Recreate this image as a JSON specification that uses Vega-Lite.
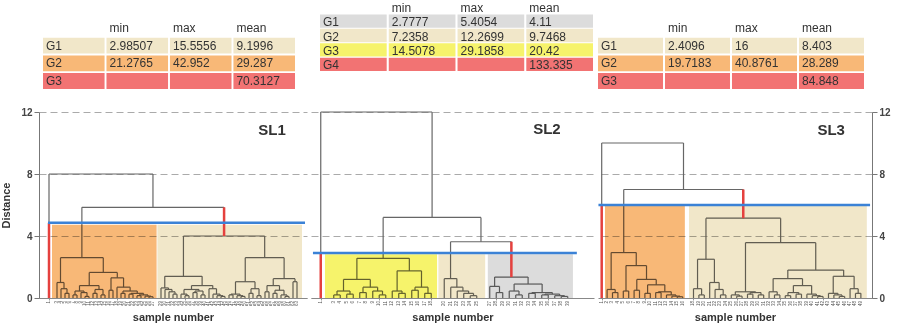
{
"$schema": "https://vega.github.io/schema/vega-lite/v6.json",
"padding": 0,
"bounds": "flush",
"align": "each",
"columns": 3,
"spacing": {"row": 12, "column": 4},
"config": {"view": {"stroke": null}, "font": "Liberation Sans", "text": {"font": "Liberation Sans"}},
"datasets": {
"tab1": [
{"row":"hdr","col":"min","txt":"min","cls":"none"},{"row":"hdr","col":"max","txt":"max","cls":"none"},{"row":"hdr","col":"mean","txt":"mean","cls":"none"},
{"row":"G1","col":"label","txt":"G1","cls":"beige"},{"row":"G1","col":"min","txt":"2.98507","cls":"beige"},{"row":"G1","col":"max","txt":"15.5556","cls":"beige"},{"row":"G1","col":"mean","txt":"9.1996","cls":"beige"},
{"row":"G2","col":"label","txt":"G2","cls":"orange"},{"row":"G2","col":"min","txt":"21.2765","cls":"orange"},{"row":"G2","col":"max","txt":"42.952","cls":"orange"},{"row":"G2","col":"mean","txt":"29.287","cls":"orange"},
{"row":"G3","col":"label","txt":"G3","cls":"red"},{"row":"G3","col":"min","txt":"","cls":"red"},{"row":"G3","col":"max","txt":"","cls":"red"},{"row":"G3","col":"mean","txt":"70.3127","cls":"red"}
],
"tab2": [
{"row":"hdr","col":"min","txt":"min","cls":"none"},{"row":"hdr","col":"max","txt":"max","cls":"none"},{"row":"hdr","col":"mean","txt":"mean","cls":"none"},
{"row":"G1","col":"label","txt":"G1","cls":"grey"},{"row":"G1","col":"min","txt":"2.7777","cls":"grey"},{"row":"G1","col":"max","txt":"5.4054","cls":"grey"},{"row":"G1","col":"mean","txt":"4.11","cls":"grey"},
{"row":"G2","col":"label","txt":"G2","cls":"beige"},{"row":"G2","col":"min","txt":"7.2358","cls":"beige"},{"row":"G2","col":"max","txt":"12.2699","cls":"beige"},{"row":"G2","col":"mean","txt":"9.7468","cls":"beige"},
{"row":"G3","col":"label","txt":"G3","cls":"yellow"},{"row":"G3","col":"min","txt":"14.5078","cls":"yellow"},{"row":"G3","col":"max","txt":"29.1858","cls":"yellow"},{"row":"G3","col":"mean","txt":"20.42","cls":"yellow"},
{"row":"G4","col":"label","txt":"G4","cls":"red"},{"row":"G4","col":"min","txt":"","cls":"red"},{"row":"G4","col":"max","txt":"","cls":"red"},{"row":"G4","col":"mean","txt":"133.335","cls":"red"}
],
"tab3": [
{"row":"hdr","col":"min","txt":"min","cls":"none"},{"row":"hdr","col":"max","txt":"max","cls":"none"},{"row":"hdr","col":"mean","txt":"mean","cls":"none"},
{"row":"G1","col":"label","txt":"G1","cls":"beige"},{"row":"G1","col":"min","txt":"2.4096","cls":"beige"},{"row":"G1","col":"max","txt":"16","cls":"beige"},{"row":"G1","col":"mean","txt":"8.403","cls":"beige"},
{"row":"G2","col":"label","txt":"G2","cls":"orange"},{"row":"G2","col":"min","txt":"19.7183","cls":"orange"},{"row":"G2","col":"max","txt":"40.8761","cls":"orange"},{"row":"G2","col":"mean","txt":"28.289","cls":"orange"},
{"row":"G3","col":"label","txt":"G3","cls":"red"},{"row":"G3","col":"min","txt":"","cls":"red"},{"row":"G3","col":"max","txt":"","cls":"red"},{"row":"G3","col":"mean","txt":"84.848","cls":"red"}
],
"m1": [
{"a":5,"ha":0,"b":6,"hb":0,"h":0.3},{"a":4,"ha":0,"b":5.5,"hb":0.3,"h":0.6},{"a":3,"ha":0,"b":4.75,"hb":0.6,"h":1.0},
{"a":7,"ha":0,"b":8,"hb":0,"h":0.2},{"a":10,"ha":0,"b":11,"hb":0,"h":0.1},{"a":9,"ha":0,"b":10.5,"hb":0.1,"h":0.35},{"a":7.5,"ha":0.2,"b":9.75,"hb":0.35,"h":0.45},
{"a":12,"ha":0,"b":13,"hb":0,"h":0.3},{"a":14,"ha":0,"b":15,"hb":0,"h":0.2},{"a":12.5,"ha":0.3,"b":14.5,"hb":0.2,"h":0.55},
{"a":8.625,"ha":0.45,"b":13.5,"hb":0.55,"h":0.8},
{"a":16,"ha":0,"b":17,"hb":0,"h":0.5},
{"a":26,"ha":0,"b":27,"hb":0,"h":0.08},{"a":25,"ha":0,"b":26.5,"hb":0.08,"h":0.12},{"a":23,"ha":0,"b":24,"hb":0,"h":0.15},{"a":23.5,"ha":0.15,"b":25.75,"hb":0.12,"h":0.2},
{"a":21,"ha":0,"b":22,"hb":0,"h":0.25},{"a":21.5,"ha":0.25,"b":24.625,"hb":0.2,"h":0.3},{"a":19,"ha":0,"b":20,"hb":0,"h":0.3},{"a":19.5,"ha":0.3,"b":23.06,"hb":0.3,"h":0.45},
{"a":18,"ha":0,"b":21.28,"hb":0.45,"h":0.7},{"a":16.5,"ha":0.5,"b":19.64,"hb":0.7,"h":1.3},
{"a":11.06,"ha":0.8,"b":18.07,"hb":1.3,"h":1.65},{"a":3.875,"ha":1.0,"b":14.57,"hb":1.65,"h":2.6},
{"a":32,"ha":0,"b":33,"hb":0,"h":0.25},{"a":31,"ha":0,"b":32.5,"hb":0.25,"h":0.4},{"a":30,"ha":0,"b":31.75,"hb":0.4,"h":0.55},{"a":29,"ha":0,"b":30.875,"hb":0.55,"h":0.65},
{"a":35,"ha":0,"b":36,"hb":0,"h":0.15},{"a":34,"ha":0,"b":35.5,"hb":0.15,"h":0.25},{"a":37,"ha":0,"b":38,"hb":0,"h":0.35},{"a":39,"ha":0,"b":40,"hb":0,"h":0.2},{"a":37.5,"ha":0.35,"b":39.5,"hb":0.2,"h":0.45},{"a":34.75,"ha":0.25,"b":38.5,"hb":0.45,"h":0.55},
{"a":44,"ha":0,"b":45,"hb":0,"h":0.1},{"a":43,"ha":0,"b":44.5,"hb":0.1,"h":0.15},{"a":42,"ha":0,"b":43.75,"hb":0.15,"h":0.25},{"a":41,"ha":0,"b":42.875,"hb":0.25,"h":0.6},
{"a":36.625,"ha":0.55,"b":41.94,"hb":0.6,"h":0.8},{"a":29.94,"ha":0.65,"b":39.28,"hb":0.8,"h":1.4},
{"a":46,"ha":0,"b":47,"hb":0,"h":0.2},{"a":49,"ha":0,"b":50,"hb":0,"h":0.1},{"a":48,"ha":0,"b":49.5,"hb":0.1,"h":0.15},{"a":46.5,"ha":0.2,"b":48.75,"hb":0.15,"h":0.25},
{"a":51,"ha":0,"b":52,"hb":0,"h":0.3},{"a":53,"ha":0,"b":54,"hb":0,"h":0.15},{"a":51.5,"ha":0.3,"b":53.5,"hb":0.15,"h":0.6},{"a":47.625,"ha":0.25,"b":52.5,"hb":0.6,"h":1.05},
{"a":55,"ha":0,"b":56,"hb":0,"h":0.4},{"a":57,"ha":0,"b":58,"hb":0,"h":0.3},{"a":60,"ha":0,"b":61,"hb":0,"h":0.1},{"a":59,"ha":0,"b":60.5,"hb":0.1,"h":0.2},{"a":57.5,"ha":0.3,"b":59.75,"hb":0.2,"h":0.5},{"a":55.5,"ha":0.4,"b":58.625,"hb":0.5,"h":0.8},
{"a":62,"ha":0,"b":63,"hb":0,"h":1.05},{"a":57.06,"ha":0.8,"b":62.5,"hb":1.05,"h":1.25},
{"a":50.06,"ha":1.05,"b":59.78,"hb":1.25,"h":2.6},{"a":34.61,"ha":1.4,"b":54.92,"hb":2.6,"h":4.0},
{"a":9.22,"ha":2.6,"b":44.77,"hb":4.0,"h":5.85},{"a":1,"ha":0,"b":26.99,"hb":5.85,"h":8.0}
],
"m2": [
{"a":3,"ha":0,"b":4,"hb":0,"h":0.2},{"a":5,"ha":0,"b":6,"hb":0,"h":0.25},{"a":3.5,"ha":0.2,"b":5.5,"hb":0.25,"h":0.45},
{"a":7,"ha":0,"b":8,"hb":0,"h":0.35},{"a":10,"ha":0,"b":11,"hb":0,"h":0.2},{"a":9,"ha":0,"b":10.5,"hb":0.2,"h":0.45},{"a":7.5,"ha":0.35,"b":9.75,"hb":0.45,"h":0.7},
{"a":4.5,"ha":0.45,"b":8.625,"hb":0.7,"h":1.2},
{"a":13,"ha":0,"b":14,"hb":0,"h":0.3},{"a":12,"ha":0,"b":13.5,"hb":0.3,"h":0.45},
{"a":15,"ha":0,"b":16,"hb":0,"h":0.5},{"a":17,"ha":0,"b":18,"hb":0,"h":0.3},{"a":15.5,"ha":0.5,"b":17.5,"hb":0.3,"h":0.7},
{"a":12.75,"ha":0.45,"b":16.5,"hb":0.7,"h":1.75},{"a":6.56,"ha":1.2,"b":14.63,"hb":1.75,"h":2.56},
{"a":24,"ha":0,"b":25,"hb":0,"h":0.15},{"a":23,"ha":0,"b":24.5,"hb":0.15,"h":0.3},{"a":22,"ha":0,"b":23.75,"hb":0.3,"h":0.45},{"a":21,"ha":0,"b":22.875,"hb":0.45,"h":0.7},{"a":20,"ha":0,"b":21.94,"hb":0.7,"h":1.25},
{"a":28,"ha":0,"b":29,"hb":0,"h":0.35},{"a":27,"ha":0,"b":28.5,"hb":0.35,"h":0.75},
{"a":31,"ha":0,"b":32,"hb":0,"h":0.2},{"a":30,"ha":0,"b":31.5,"hb":0.2,"h":0.45},
{"a":33,"ha":0,"b":34,"hb":0,"h":0.3},{"a":35,"ha":0,"b":36,"hb":0,"h":0.2},{"a":38,"ha":0,"b":39,"hb":0,"h":0.1},{"a":37,"ha":0,"b":38.5,"hb":0.1,"h":0.15},{"a":35.5,"ha":0.2,"b":37.75,"hb":0.15,"h":0.25},{"a":33.5,"ha":0.3,"b":36.63,"hb":0.25,"h":0.35},
{"a":30.75,"ha":0.45,"b":35.06,"hb":0.35,"h":0.9},{"a":27.75,"ha":0.75,"b":32.9,"hb":0.9,"h":1.35},
{"a":20.97,"ha":1.25,"b":30.33,"hb":1.35,"h":3.63},{"a":10.6,"ha":2.56,"b":25.65,"hb":3.63,"h":5.2},
{"a":1,"ha":0,"b":18.13,"hb":5.2,"h":12.0}
],
"m3": [
{"a":3,"ha":0,"b":4,"hb":0,"h":0.35},{"a":2,"ha":0,"b":3.5,"hb":0.35,"h":0.55},
{"a":5,"ha":0,"b":6,"hb":0,"h":0.45},{"a":7,"ha":0,"b":8,"hb":0,"h":0.5},{"a":9,"ha":0,"b":10,"hb":0,"h":0.3},
{"a":11,"ha":0,"b":12,"hb":0,"h":0.35},{"a":15,"ha":0,"b":16,"hb":0,"h":0.08},{"a":14,"ha":0,"b":15.5,"hb":0.08,"h":0.12},{"a":13,"ha":0,"b":14.75,"hb":0.12,"h":0.2},{"a":11.5,"ha":0.35,"b":13.88,"hb":0.2,"h":0.4},
{"a":9.5,"ha":0.3,"b":12.69,"hb":0.4,"h":0.85},{"a":7.5,"ha":0.5,"b":11.1,"hb":0.85,"h":1.2},{"a":5.5,"ha":0.45,"b":9.3,"hb":1.2,"h":2.09},
{"a":2.75,"ha":0.55,"b":7.4,"hb":2.09,"h":2.93},
{"a":19,"ha":0,"b":20,"hb":0,"h":0.2},{"a":18,"ha":0,"b":19.5,"hb":0.2,"h":0.6},
{"a":23,"ha":0,"b":24,"hb":0,"h":0.2},{"a":22,"ha":0,"b":23.5,"hb":0.2,"h":0.55},{"a":21,"ha":0,"b":22.75,"hb":0.55,"h":1.0},
{"a":18.75,"ha":0.6,"b":21.875,"hb":1.0,"h":2.5},
{"a":26,"ha":0,"b":27,"hb":0,"h":0.12},{"a":25,"ha":0,"b":26.5,"hb":0.12,"h":0.2},{"a":28,"ha":0,"b":29,"hb":0,"h":0.25},{"a":30,"ha":0,"b":31,"hb":0,"h":0.2},{"a":28.5,"ha":0.25,"b":30.5,"hb":0.2,"h":0.35},{"a":25.75,"ha":0.2,"b":29.5,"hb":0.35,"h":0.4},
{"a":33,"ha":0,"b":34,"hb":0,"h":0.2},{"a":32,"ha":0,"b":33.5,"hb":0.2,"h":0.4},
{"a":35,"ha":0,"b":36,"hb":0,"h":0.15},{"a":37,"ha":0,"b":38,"hb":0,"h":0.25},{"a":35.5,"ha":0.15,"b":37.5,"hb":0.25,"h":0.35},
{"a":41,"ha":0,"b":42,"hb":0,"h":0.1},{"a":40,"ha":0,"b":41.5,"hb":0.1,"h":0.15},{"a":39,"ha":0,"b":40.75,"hb":0.15,"h":0.25},
{"a":36.5,"ha":0.35,"b":39.88,"hb":0.25,"h":0.8},{"a":32.75,"ha":0.4,"b":38.19,"hb":0.8,"h":1.25},
{"a":45,"ha":0,"b":46,"hb":0,"h":0.1},{"a":44,"ha":0,"b":45.5,"hb":0.1,"h":0.2},{"a":43,"ha":0,"b":44.75,"hb":0.2,"h":0.3},
{"a":48,"ha":0,"b":49,"hb":0,"h":0.3},{"a":47,"ha":0,"b":48.5,"hb":0.3,"h":0.6},{"a":43.88,"ha":0.3,"b":47.75,"hb":0.6,"h":1.4},
{"a":35.47,"ha":1.25,"b":45.81,"hb":1.4,"h":1.8},{"a":27.63,"ha":0.4,"b":40.64,"hb":1.8,"h":3.57},
{"a":20.31,"ha":2.5,"b":34.14,"hb":3.57,"h":5.15},{"a":5.08,"ha":2.93,"b":27.22,"hb":5.15,"h":7.0},
{"a":1,"ha":0,"b":16.15,"hb":7.0,"h":10.0}
],
"l1": [{"n":1},{"n":3},{"n":4},{"n":5},{"n":6},{"n":7},{"n":8},{"n":9},{"n":10},{"n":11},{"n":12},{"n":13},{"n":14},{"n":15},{"n":16},{"n":17},{"n":18},{"n":19},{"n":20},{"n":21},{"n":22},{"n":23},{"n":24},{"n":25},{"n":26},{"n":27},{"n":29},{"n":30},{"n":31},{"n":32},{"n":33},{"n":34},{"n":35},{"n":36},{"n":37},{"n":38},{"n":39},{"n":40},{"n":41},{"n":42},{"n":43},{"n":44},{"n":45},{"n":46},{"n":47},{"n":48},{"n":49},{"n":50},{"n":51},{"n":52},{"n":53},{"n":54},{"n":55},{"n":56},{"n":57},{"n":58},{"n":59},{"n":60},{"n":61},{"n":62},{"n":63}],
"l2": [{"n":1},{"n":3},{"n":4},{"n":5},{"n":6},{"n":7},{"n":8},{"n":9},{"n":10},{"n":11},{"n":12},{"n":13},{"n":14},{"n":15},{"n":16},{"n":17},{"n":18},{"n":20},{"n":21},{"n":22},{"n":23},{"n":24},{"n":25},{"n":27},{"n":28},{"n":29},{"n":30},{"n":31},{"n":32},{"n":33},{"n":34},{"n":35},{"n":36},{"n":37},{"n":38},{"n":39}],
"l3": [{"n":1},{"n":2},{"n":3},{"n":4},{"n":5},{"n":6},{"n":7},{"n":8},{"n":9},{"n":10},{"n":11},{"n":12},{"n":13},{"n":14},{"n":15},{"n":16},{"n":18},{"n":19},{"n":20},{"n":21},{"n":22},{"n":23},{"n":24},{"n":25},{"n":26},{"n":27},{"n":28},{"n":29},{"n":30},{"n":31},{"n":32},{"n":33},{"n":34},{"n":35},{"n":36},{"n":37},{"n":38},{"n":39},{"n":40},{"n":41},{"n":42},{"n":43},{"n":44},{"n":45},{"n":46},{"n":47},{"n":48},{"n":49}],
"b1": [{"x0":1.75,"x1":27.9,"top":4.72,"bot":0,"cls":"orange"},{"x0":28.1,"x1":64.25,"top":4.72,"bot":0,"cls":"beige"}],
"b2": [{"x0":1.65,"x1":18.9,"top":2.82,"bot":0,"cls":"yellow"},{"x0":19.1,"x1":26.3,"top":2.82,"bot":0,"cls":"beige"},{"x0":26.7,"x1":39.8,"top":2.82,"bot":0,"cls":"grey"}],
"b3": [{"x0":1.61,"x1":16.4,"top":5.95,"bot":0,"cls":"orange"},{"x0":17.17,"x1":50.1,"top":5.95,"bot":0,"cls":"beige"}],
"r1": [{"x":1,"y0":0,"y1":4.85},{"x":44.77,"y0":4.0,"y1":5.85}],
"r2": [{"x":1,"y0":0,"y1":2.9},{"x":30.33,"y0":1.35,"y1":3.63}],
"r3": [{"x":1,"y0":0,"y1":6.0},{"x":27.22,"y0":5.15,"y1":7.0}],
"c1": [{"x0":0.75,"x1":65.0,"cut":4.85,"name":"SL1","tx":56.75,"ty":10.84}],
"c2": [{"x0":-0.2,"x1":40.4,"cut":2.9,"name":"SL2","tx":35.8,"ty":10.9}],
"c3": [{"x0":0.4,"x1":50.7,"cut":6.0,"name":"SL3","tx":43.5,"ty":10.84}]
},
"concat": [
{"width": 268, "height": 100, "data": {"name": "tab1"},
 "layer": [
  {"transform": [{"filter": "datum.row != 'hdr'"}], "mark": {"type": "rect"},
   "encoding": {"x": {"field": "col", "type": "nominal", "scale": {"type": "band", "domain": ["label","min","max","mean"], "range": [4, 256], "paddingInner": 0.03, "paddingOuter": 0}, "axis": null},
    "y": {"field": "row", "type": "nominal", "scale": {"type": "band", "domain": ["hdr","G1","G2","G3"], "range": [20, 89], "paddingInner": 0.1, "paddingOuter": 0}, "axis": null},
    "color": {"field": "cls", "type": "nominal", "scale": {"domain": ["beige","orange","red","grey","yellow","none"], "range": ["#f1e7c9","#f8b877","#f27373","#dcdcdc","#f6f36b","#ffffff"]}, "legend": null}}},
  {"mark": {"type": "text", "align": "left", "baseline": "middle", "dx": 3, "fontSize": 12, "color": "#333"},
   "encoding": {"x": {"field": "col", "type": "nominal", "bandPosition": 0}, "y": {"field": "row", "type": "nominal", "bandPosition": 0.5}, "text": {"field": "txt", "type": "nominal"}}}
 ]},
{"width": 283, "height": 100, "data": {"name": "tab2"},
 "layer": [
  {"transform": [{"filter": "datum.row != 'hdr'"}], "mark": {"type": "rect"},
   "encoding": {"x": {"field": "col", "type": "nominal", "scale": {"type": "band", "domain": ["label","min","max","mean"], "range": [9, 282], "paddingInner": 0.03, "paddingOuter": 0}, "axis": null},
    "y": {"field": "row", "type": "nominal", "scale": {"type": "band", "domain": ["hdr","G1","G2","G3","G4"], "range": [0, 71], "paddingInner": 0.08, "paddingOuter": 0}, "axis": null},
    "color": {"field": "cls", "type": "nominal", "scale": {"domain": ["beige","orange","red","grey","yellow","none"], "range": ["#f1e7c9","#f8b877","#f27373","#dcdcdc","#f6f36b","#ffffff"]}, "legend": null}}},
  {"mark": {"type": "text", "align": "left", "baseline": "middle", "dx": 3, "dy": 1, "fontSize": 12, "color": "#333"},
   "encoding": {"x": {"field": "col", "type": "nominal", "bandPosition": 0}, "y": {"field": "row", "type": "nominal", "bandPosition": 0.5}, "text": {"field": "txt", "type": "nominal"}}}
 ]},
{"width": 274, "height": 100, "data": {"name": "tab3"},
 "layer": [
  {"transform": [{"filter": "datum.row != 'hdr'"}], "mark": {"type": "rect"},
   "encoding": {"x": {"field": "col", "type": "nominal", "scale": {"type": "band", "domain": ["label","min","max","mean"], "range": [0, 266], "paddingInner": 0.03, "paddingOuter": 0}, "axis": null},
    "y": {"field": "row", "type": "nominal", "scale": {"type": "band", "domain": ["hdr","G1","G2","G3"], "range": [20, 89], "paddingInner": 0.1, "paddingOuter": 0}, "axis": null},
    "color": {"field": "cls", "type": "nominal", "scale": {"domain": ["beige","orange","red","grey","yellow","none"], "range": ["#f1e7c9","#f8b877","#f27373","#dcdcdc","#f6f36b","#ffffff"]}, "legend": null}}},
  {"mark": {"type": "text", "align": "left", "baseline": "middle", "dx": 3, "fontSize": 12, "color": "#333"},
   "encoding": {"x": {"field": "col", "type": "nominal", "bandPosition": 0}, "y": {"field": "row", "type": "nominal", "bandPosition": 0.5}, "text": {"field": "txt", "type": "nominal"}}}
 ]},
{"width": 268, "height": 186, "data": {"name": "m1"},
 "layer": [
  {"mark": {"type": "rule", "color": "#666", "strokeWidth": 1.2},
   "encoding": {"x": {"field": "a", "type": "quantitative", "scale": {"domain": [-1.5, 65.5], "nice": false, "zero": false},
     "axis": {"values": [1,3,4,5,6,7,8,9,10,11,12,13,14,15,16,17,18,19,20,21,22,23,24,25,26,27,29,30,31,32,33,34,35,36,37,38,39,40,41,42,43,44,45,46,47,48,49,50,51,52,53,54,55,56,57,58,59,60,61,62,63],
      "labels": false, "tickSize": 2, "tickColor": "#999", "domainColor": "#888", "grid": false,
      "title": "sample number", "titleFontSize": 11, "titleFontWeight": "bold", "titleColor": "#333", "titlePadding": 11}},
    "x2": {"field": "b"},
    "y": {"field": "h", "type": "quantitative", "scale": {"domain": [0, 12], "nice": false},
     "axis": {"values": [0,2,4,6,8,10,12], "grid": true, "gridDash": [7, 4], "gridColor": "#aaa", "domainColor": "#777", "tickColor": "#777", "tickSize": 5,
      "labelFontSize": 10, "labelFontWeight": "bold", "labelColor": "#444", "labelPadding": 2,
      "title": "Distance", "titleFontSize": 11, "titleFontWeight": "bold", "titleColor": "#333", "titlePadding": 9}}}},
  {"mark": {"type": "rule", "color": "#666", "strokeWidth": 1.2},
   "encoding": {"x": {"field": "a", "type": "quantitative"}, "y": {"field": "ha", "type": "quantitative"}, "y2": {"field": "h"}}},
  {"mark": {"type": "rule", "color": "#666", "strokeWidth": 1.2},
   "encoding": {"x": {"field": "b", "type": "quantitative"}, "y": {"field": "hb", "type": "quantitative"}, "y2": {"field": "h"}}},
  {"data": {"name": "b1"}, "mark": {"type": "rect", "blend": "multiply"},
   "encoding": {"x": {"field": "x0", "type": "quantitative"}, "x2": {"field": "x1"}, "y": {"field": "top", "type": "quantitative"}, "y2": {"field": "bot"},
    "color": {"field": "cls", "type": "nominal", "scale": {"domain": ["beige","orange","red","grey","yellow","none"], "range": ["#f1e7c9","#f8b877","#f27373","#dcdcdc","#f6f36b","#ffffff"]}, "legend": null}}},
  {"data": {"name": "r1"}, "mark": {"type": "rule", "color": "#e5413e", "strokeWidth": 2.5},
   "encoding": {"x": {"field": "x", "type": "quantitative"}, "y": {"field": "y0", "type": "quantitative"}, "y2": {"field": "y1"}}},
  {"data": {"name": "c1"}, "mark": {"type": "rule", "color": "#3b82d6", "strokeWidth": 2.5},
   "encoding": {"x": {"field": "x0", "type": "quantitative"}, "x2": {"field": "x1"}, "y": {"field": "cut", "type": "quantitative"}}},
  {"data": {"name": "c1"}, "mark": {"type": "text", "fontSize": 15, "fontWeight": "bold", "color": "#333"},
   "encoding": {"x": {"field": "tx", "type": "quantitative"}, "y": {"field": "ty", "type": "quantitative"}, "text": {"field": "name", "type": "nominal"}}},
  {"data": {"name": "l1"}, "mark": {"type": "text", "angle": 270, "align": "right", "baseline": "middle", "fontSize": 4.5, "color": "#555"},
   "encoding": {"x": {"field": "n", "type": "quantitative"}, "y": {"datum": -0.2, "type": "quantitative"}, "text": {"field": "n", "type": "quantitative", "format": "d"}}}
 ]},
{"width": 283, "height": 186, "data": {"name": "m2"},
 "layer": [
  {"mark": {"type": "rule", "color": "#666", "strokeWidth": 1.2},
   "encoding": {"x": {"field": "a", "type": "quantitative", "scale": {"domain": [-0.5, 43.04], "nice": false, "zero": false},
     "axis": {"values": [1,3,4,5,6,7,8,9,10,11,12,13,14,15,16,17,18,20,21,22,23,24,25,27,28,29,30,31,32,33,34,35,36,37,38,39],
      "labels": false, "tickSize": 2, "tickColor": "#999", "domainColor": "#888", "grid": false,
      "title": "sample number", "titleFontSize": 11, "titleFontWeight": "bold", "titleColor": "#333", "titlePadding": 11}},
    "x2": {"field": "b"},
    "y": {"field": "h", "type": "quantitative", "scale": {"domain": [0, 12], "nice": false},
     "axis": {"values": [0,2,4,6,8,10,12], "grid": true, "gridDash": [7, 4], "gridColor": "#aaa", "domain": false, "ticks": false, "labels": false, "title": null}}}},
  {"mark": {"type": "rule", "color": "#666", "strokeWidth": 1.2},
   "encoding": {"x": {"field": "a", "type": "quantitative"}, "y": {"field": "ha", "type": "quantitative"}, "y2": {"field": "h"}}},
  {"mark": {"type": "rule", "color": "#666", "strokeWidth": 1.2},
   "encoding": {"x": {"field": "b", "type": "quantitative"}, "y": {"field": "hb", "type": "quantitative"}, "y2": {"field": "h"}}},
  {"data": {"name": "b2"}, "mark": {"type": "rect", "blend": "multiply"},
   "encoding": {"x": {"field": "x0", "type": "quantitative"}, "x2": {"field": "x1"}, "y": {"field": "top", "type": "quantitative"}, "y2": {"field": "bot"},
    "color": {"field": "cls", "type": "nominal", "scale": {"domain": ["beige","orange","red","grey","yellow","none"], "range": ["#f1e7c9","#f8b877","#f27373","#dcdcdc","#f6f36b","#ffffff"]}, "legend": null}}},
  {"data": {"name": "r2"}, "mark": {"type": "rule", "color": "#e5413e", "strokeWidth": 2.5},
   "encoding": {"x": {"field": "x", "type": "quantitative"}, "y": {"field": "y0", "type": "quantitative"}, "y2": {"field": "y1"}}},
  {"data": {"name": "c2"}, "mark": {"type": "rule", "color": "#3b82d6", "strokeWidth": 2.5},
   "encoding": {"x": {"field": "x0", "type": "quantitative"}, "x2": {"field": "x1"}, "y": {"field": "cut", "type": "quantitative"}}},
  {"data": {"name": "c2"}, "mark": {"type": "text", "fontSize": 15, "fontWeight": "bold", "color": "#333"},
   "encoding": {"x": {"field": "tx", "type": "quantitative"}, "y": {"field": "ty", "type": "quantitative"}, "text": {"field": "name", "type": "nominal"}}},
  {"data": {"name": "l2"}, "mark": {"type": "text", "angle": 270, "align": "right", "baseline": "middle", "fontSize": 4.5, "color": "#555"},
   "encoding": {"x": {"field": "n", "type": "quantitative"}, "y": {"datum": -0.2, "type": "quantitative"}, "text": {"field": "n", "type": "quantitative", "format": "d"}}}
 ]},
{"width": 274, "height": 186, "data": {"name": "m3"},
 "layer": [
  {"mark": {"type": "rule", "color": "#666", "strokeWidth": 1.2},
   "encoding": {"x": {"field": "a", "type": "quantitative", "scale": {"domain": [0.315, 51.06], "nice": false, "zero": false},
     "axis": {"values": [1,2,3,4,5,6,7,8,9,10,11,12,13,14,15,16,18,19,20,21,22,23,24,25,26,27,28,29,30,31,32,33,34,35,36,37,38,39,40,41,42,43,44,45,46,47,48,49],
      "labels": false, "tickSize": 2, "tickColor": "#999", "domainColor": "#888", "grid": false,
      "title": "sample number", "titleFontSize": 11, "titleFontWeight": "bold", "titleColor": "#333", "titlePadding": 11}},
    "x2": {"field": "b"},
    "y": {"field": "h", "type": "quantitative", "scale": {"domain": [0, 12], "nice": false},
     "axis": {"orient": "right", "values": [0,2,4,6,8,10,12], "grid": true, "gridDash": [7, 4], "gridColor": "#aaa", "domainColor": "#777", "tickColor": "#777", "tickSize": 5,
      "labelFontSize": 10, "labelFontWeight": "bold", "labelColor": "#444", "labelPadding": 2, "title": null}}}},
  {"mark": {"type": "rule", "color": "#666", "strokeWidth": 1.2},
   "encoding": {"x": {"field": "a", "type": "quantitative"}, "y": {"field": "ha", "type": "quantitative"}, "y2": {"field": "h"}}},
  {"mark": {"type": "rule", "color": "#666", "strokeWidth": 1.2},
   "encoding": {"x": {"field": "b", "type": "quantitative"}, "y": {"field": "hb", "type": "quantitative"}, "y2": {"field": "h"}}},
  {"data": {"name": "b3"}, "mark": {"type": "rect", "blend": "multiply"},
   "encoding": {"x": {"field": "x0", "type": "quantitative"}, "x2": {"field": "x1"}, "y": {"field": "top", "type": "quantitative"}, "y2": {"field": "bot"},
    "color": {"field": "cls", "type": "nominal", "scale": {"domain": ["beige","orange","red","grey","yellow","none"], "range": ["#f1e7c9","#f8b877","#f27373","#dcdcdc","#f6f36b","#ffffff"]}, "legend": null}}},
  {"data": {"name": "r3"}, "mark": {"type": "rule", "color": "#e5413e", "strokeWidth": 2.5},
   "encoding": {"x": {"field": "x", "type": "quantitative"}, "y": {"field": "y0", "type": "quantitative"}, "y2": {"field": "y1"}}},
  {"data": {"name": "c3"}, "mark": {"type": "rule", "color": "#3b82d6", "strokeWidth": 2.5},
   "encoding": {"x": {"field": "x0", "type": "quantitative"}, "x2": {"field": "x1"}, "y": {"field": "cut", "type": "quantitative"}}},
  {"data": {"name": "c3"}, "mark": {"type": "text", "fontSize": 15, "fontWeight": "bold", "color": "#333"},
   "encoding": {"x": {"field": "tx", "type": "quantitative"}, "y": {"field": "ty", "type": "quantitative"}, "text": {"field": "name", "type": "nominal"}}},
  {"data": {"name": "l3"}, "mark": {"type": "text", "angle": 270, "align": "right", "baseline": "middle", "fontSize": 4.5, "color": "#555"},
   "encoding": {"x": {"field": "n", "type": "quantitative"}, "y": {"datum": -0.2, "type": "quantitative"}, "text": {"field": "n", "type": "quantitative", "format": "d"}}}
 ]}
]
}
